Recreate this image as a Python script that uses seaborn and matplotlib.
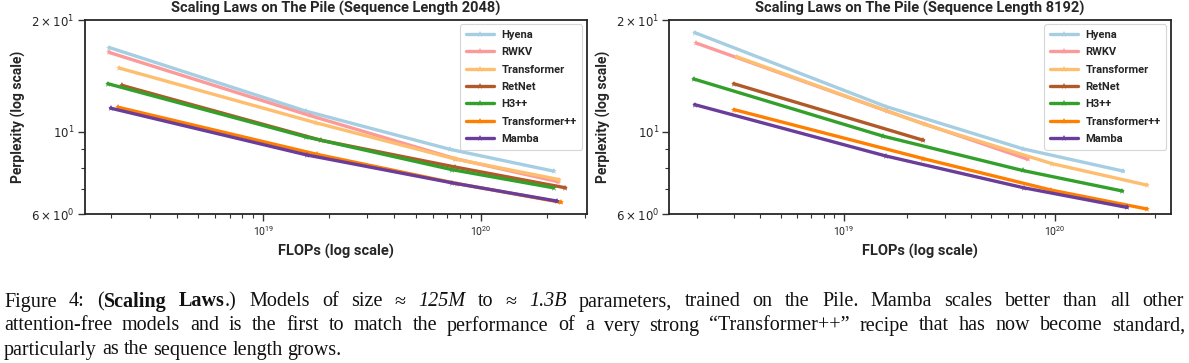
import numpy as np
import pandas as pd
import matplotlib
matplotlib.use("Agg")
import matplotlib.pyplot as plt
import matplotlib.ticker as mticker
import seaborn as sns

models = ["Hyena", "RWKV", "Transformer", "RetNet", "H3++", "Transformer++", "Mamba"]
colors = ["#a6cee3", "#fb9a99", "#fdbf6f", "#b15928", "#33a02c", "#ff7f00", "#6a3d9a"]

# Sequence length 2048
flops_2048 = {
    "Hyena":         [1.96e18, 1.57e19, 7.21e19, 2.15e20],
    "RWKV":          [1.96e18, 1.63e19, 7.60e19, 2.26e20],
    "Transformer":   [2.18e18, 1.74e19, 7.67e19, 2.28e20],
    "RetNet":        [2.24e18, 1.84e19, 7.60e19, 2.44e20],
    "H3++":          [1.93e18, 1.57e19, 7.36e19, 2.15e20],
    "Transformer++": [2.15e18, 1.76e19, 7.73e19, 2.33e20],
    "Mamba":         [1.99e18, 1.59e19, 7.36e19, 2.23e20],
}
ppl_2048 = {
    "Hyena":         [16.86, 11.36, 8.96, 7.83],
    "RWKV":          [16.35, 11.06, 8.46, 7.33],
    "Transformer":   [14.84, 10.57, 8.43, 7.43],
    "RetNet":        [13.33, 9.48, 8.03, 7.06],
    "H3++":          [13.47, 9.68, 7.90, 7.06],
    "Transformer++": [11.64, 8.69, 7.25, 6.45],
    "Mamba":         [11.57, 8.65, 7.28, 6.50],
}

# Sequence length 8192
flops_8192 = {
    "Hyena":         [1.95e18, 1.58e19, 7.08e19, 2.12e20],
    "RWKV":          [1.99e18, 1.60e19, 7.45e19],
    "Transformer":   [3.09e18, 2.41e19, 9.73e19, 2.74e20],
    "RetNet":        [2.99e18, 2.38e19],
    "H3++":          [1.93e18, 1.53e19, 7.05e19, 2.10e20],
    "Transformer++": [3.00e18, 2.38e19, 9.64e19, 2.74e20],
    "Mamba":         [1.95e18, 1.58e19, 7.14e19, 2.21e20],
}
ppl_8192 = {
    "Hyena":         [18.5, 11.69, 8.99, 7.83],
    "RWKV":          [17.32, 11.36, 8.43],
    "Transformer":   [15.92, 10.46, 8.20, 7.18],
    "RetNet":        [13.47, 9.48],
    "H3++":          [13.87, 9.73, 7.86, 6.92],
    "Transformer++": [11.47, 8.46, 6.96, 6.19],
    "Mamba":         [11.83, 8.60, 7.06, 6.25],
}

titles = ["Scaling Laws on The Pile (Sequence Length 2048)",
          "Scaling Laws on The Pile (Sequence Length 8192)"]
xlabel = "FLOPs (log scale)"
ylabel = "Perplexity (log scale)"
yticks = [6, 10, 20]
ytick_labels = [r"$6\times10^{0}$", r"$10^{1}$", r"$2\times10^{1}$"]
xlims = [(1.51e18, 3.05e20), (1.48e18, 3.56e20)]
ylim = (6, 20)

# caption: words made of (text, style) segments; r=regular, b=bold, i=italic
caption_line1 = [
    [("Figure", "r")], [("4:", "r")], [("(", "r"), ("Scaling", "b")], [("Laws", "b"), (".)", "r")],
    [("Models", "r")], [("of", "r")], [("size", "r")], [("\u2248", "r")], [("125M", "i")],
    [("to", "r")], [("\u2248", "r")], [("1.3B", "i")], [("parameters,", "r")], [("trained", "r")],
    [("on", "r")], [("the", "r")], [("Pile.", "r")], [("Mamba", "r")], [("scales", "r")],
    [("better", "r")], [("than", "r")], [("all", "r")], [("other", "r")],
]
caption_line2 = [[(w, "r")] for w in
    "attention-free models and is the first to match the performance of a very strong \u201cTransformer++\u201d recipe that has now become standard,".split()]
caption_line3 = [[(w, "r")] for w in
    "particularly as the sequence length grows.".split()]

def to_df(flops, ppl):
    rows = []
    for m in models:
        for f, p in zip(flops[m], ppl[m]):
            rows.append({"model": m, "flops": f, "ppl": p})
    return pd.DataFrame(rows)

sns.set_theme(style="ticks")
plt.rcParams["font.family"] = ["Roboto", "DejaVu Sans"]

W, H = 1189, 363
fig = plt.figure(figsize=(W / 100, H / 100), dpi=100)
ax_rects = [[84.6 / W, 1 - 214 / H, 502 / W, 194 / H],
            [669.4 / W, 1 - 214 / H, 501.3 / W, 194 / H]]
palette = dict(zip(models, colors))
dark = "#262626"

for i, (flops, ppl) in enumerate([(flops_2048, ppl_2048), (flops_8192, ppl_8192)]):
    ax = fig.add_axes(ax_rects[i])
    df = to_df(flops, ppl)
    sns.lineplot(data=df, x="flops", y="ppl", hue="model", hue_order=models,
                 palette=palette, marker="*", markersize=5, markeredgewidth=0,
                 linewidth=2.4, sort=False, estimator=None, ax=ax)
    ax.set_xscale("log")
    ax.set_yscale("log")
    ax.set_xlim(*xlims[i])
    ax.set_ylim(*ylim)
    ax.yaxis.set_major_locator(mticker.FixedLocator(yticks))
    ax.yaxis.set_major_formatter(mticker.FixedFormatter(ytick_labels))
    ax.yaxis.set_minor_locator(mticker.LogLocator(base=10, subs=np.arange(2, 10)))
    ax.yaxis.set_minor_formatter(mticker.NullFormatter())
    ax.xaxis.set_minor_formatter(mticker.NullFormatter())
    ax.tick_params(axis="both", which="major", length=5, width=1, color="#333333", pad=2, labelcolor=dark)
    ax.tick_params(axis="both", which="minor", length=3, width=0.8, color="#333333")
    ax.tick_params(axis="x", which="major", labelsize=7.5)
    ax.tick_params(axis="y", which="major", labelsize=8.5)
    for sp in ax.spines.values():
        sp.set_visible(True)
        sp.set_color(dark)
        sp.set_linewidth(1.3)
    ax.set_title(titles[i], fontsize=10.5, fontweight="bold", pad=5, color=dark)
    ax.set_xlabel(xlabel, fontsize=10.5, fontweight="bold", color=dark, labelpad=5)
    ax.set_ylabel(ylabel, fontsize=10, fontweight="bold", color=dark, labelpad=4)
    leg = ax.legend(loc="upper right", fontsize=8, frameon=True, handlelength=2.5,
                    handletextpad=0.7, borderpad=0.5, labelspacing=0.66, borderaxespad=0.4)
    for t in leg.get_texts():
        t.set_fontweight("bold")
        t.set_color(dark)
    leg.get_frame().set_edgecolor("#cccccc")
    leg.get_frame().set_linewidth(0.8)
    for h in leg.get_lines():
        h.set_linewidth(2.4)

# caption, justified like the paper's text
cap_family = ["Liberation Serif", "DejaVu Serif"]
cap_size = 14.5
renderer = fig.canvas.get_renderer()

def make_word(word, yb):
    arts, widths = [], []
    for txt, st in word:
        t = fig.text(0, yb / H, txt, fontsize=cap_size, family=cap_family,
                     fontweight="bold" if st == "b" else "normal",
                     fontstyle="italic" if st == "i" else "normal",
                     va="baseline", ha="left", color="#111111")
        arts.append(t)
        widths.append(t.get_window_extent(renderer).width)
    return arts, widths

def place_line(words, yb, x0, x1, justify):
    built = [make_word(w, yb) for w in words]
    totals = [sum(wd) for _, wd in built]
    if justify and len(words) > 1:
        gap = (x1 - x0 - sum(totals)) / (len(words) - 1)
    else:
        gap = cap_size * 100 / 72 * 0.25
    x = x0
    for (arts, wd), tot in zip(built, totals):
        xx = x
        for a, w in zip(arts, wd):
            a.set_x(xx / W)
            xx += w
        x += tot + gap

place_line(caption_line1, H - 306.5, 4, 1184, True)
place_line(caption_line2, H - 330.5, 4, 1185, True)
place_line(caption_line3, H - 354.5, 4, 1185, False)

fig.savefig("out.png", dpi=100)
